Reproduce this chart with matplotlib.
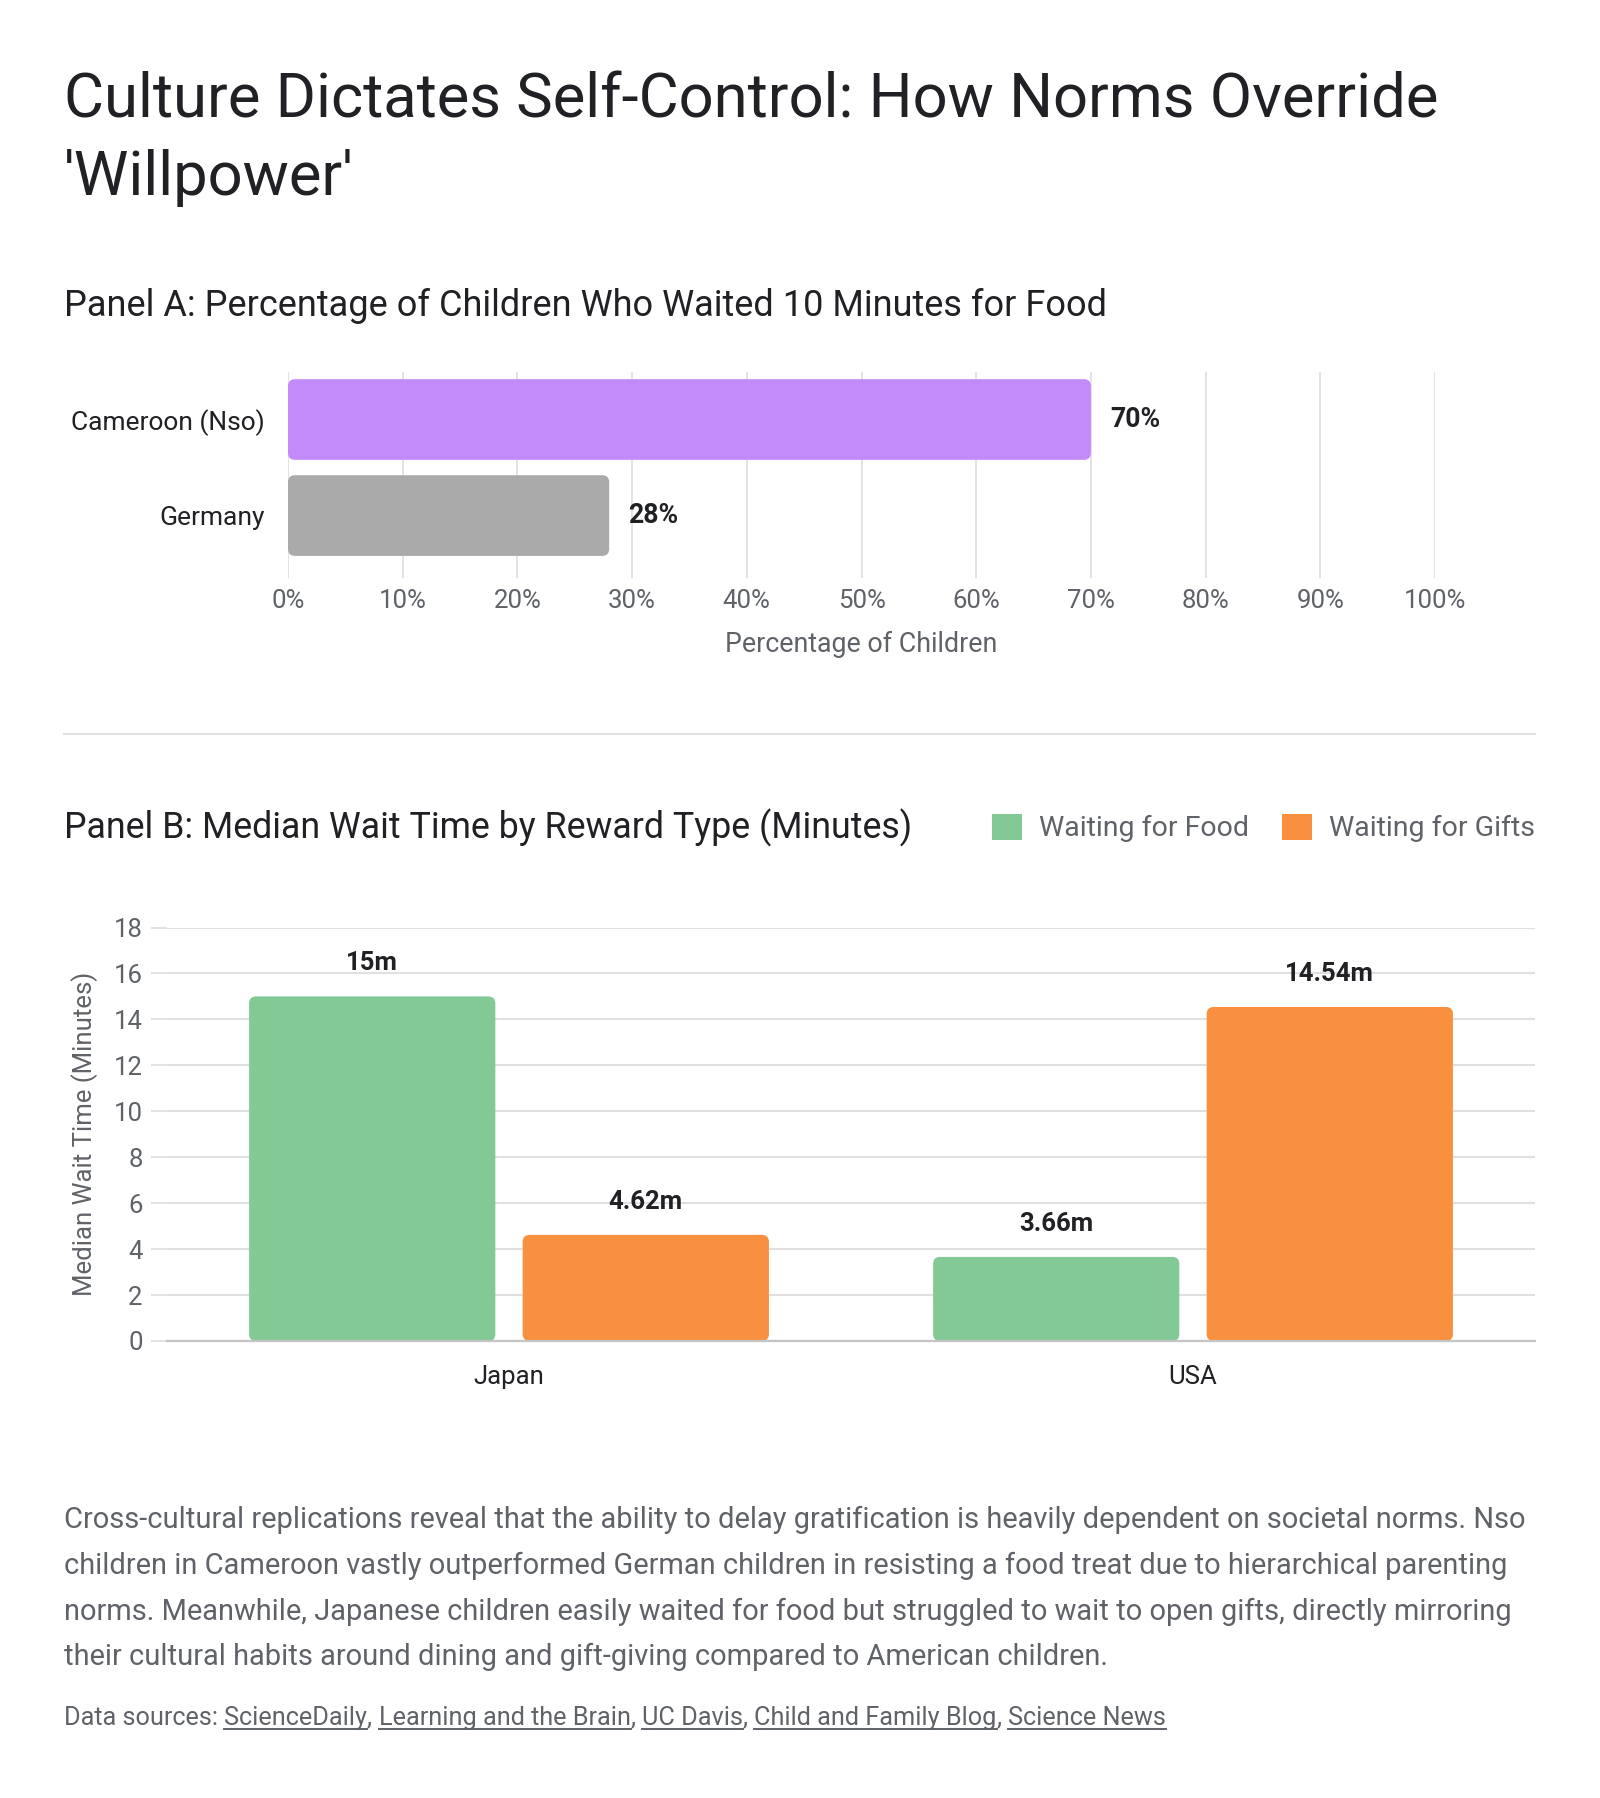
import matplotlib
matplotlib.use("Agg")
import matplotlib.pyplot as plt
from matplotlib.patches import FancyBboxPatch, Patch
from matplotlib.lines import Line2D
import numpy as np

# ---------------- data ----------------
title_lines = ["Culture Dictates Self-Control: How Norms Override", "'Willpower'"]
panel_a_title = "Panel A: Percentage of Children Who Waited 10 Minutes for Food"
panel_a_countries = ["Cameroon (Nso)", "Germany"]
panel_a_values = [70, 28]
panel_a_ticks = [0, 10, 20, 30, 40, 50, 60, 70, 80, 90, 100]
panel_a_xlabel = "Percentage of Children"

panel_b_title = "Panel B: Median Wait Time by Reward Type (Minutes)"
panel_b_countries = ["Japan", "USA"]
panel_b_food = [15, 3.66]
panel_b_gifts = [4.62, 14.54]
panel_b_food_labels = ["15m", "3.66m"]
panel_b_gifts_labels = ["4.62m", "14.54m"]
panel_b_series = ["Waiting for Food", "Waiting for Gifts"]
panel_b_yticks = [0, 2, 4, 6, 8, 10, 12, 14, 16, 18]
panel_b_ylabel = "Median Wait Time (Minutes)"

body_lines = [
    "Cross-cultural replications reveal that the ability to delay gratification is heavily dependent on societal norms. Nso",
    "children in Cameroon vastly outperformed German children in resisting a food treat due to hierarchical parenting",
    "norms. Meanwhile, Japanese children easily waited for food but struggled to wait to open gifts, directly mirroring",
    "their cultural habits around dining and gift-giving compared to American children.",
]
sources_prefix = "Data sources: "
sources = ["ScienceDaily", "Learning and the Brain", "UC Davis", "Child and Family Blog", "Science News"]

# ---------------- style ----------------
FONT = ["Roboto", "DejaVu Sans"]
plt.rcParams["font.family"] = FONT
DARK = "#202124"
GREY = "#5f6368"
GRID = "#e0e0e0"
PURPLE = "#c38af9"
GRAYBAR = "#aaaaaa"
GREEN = "#82c995"
ORANGE = "#f9903f"
TICK = 18.5

W, H = 1600, 1798
fig = plt.figure(figsize=(W / 100, H / 100), dpi=100)
fx = lambda x: x / W
fy = lambda y: 1 - y / H


def round_bars(ax, bars, radius_px):
    fig.canvas.draw()
    t = ax.transData
    p0 = t.transform((0, 0))
    p1 = t.transform((1, 1))
    ppx = abs(p1[0] - p0[0])
    ppy = abs(p1[1] - p0[1])
    rx = radius_px / ppx
    ry = radius_px / ppy
    for b in bars:
        x, y = b.get_x(), b.get_y()
        w, h = b.get_width(), b.get_height()
        fp = FancyBboxPatch((x, y), w, h,
                            boxstyle=f"round,pad=0,rounding_size={rx}",
                            mutation_aspect=ry / rx,
                            facecolor=b.get_facecolor(), edgecolor="none",
                            zorder=b.get_zorder())
        ax.add_patch(fp)
        b.set_visible(False)


# ---------------- titles ----------------
fig.text(fx(64), fy(101), title_lines[0], fontsize=44.3, color=DARK, va="center", ha="left")
fig.text(fx(64), fy(178), title_lines[1], fontsize=44.3, color=DARK, va="center", ha="left")

fig.text(fx(64), fy(306), panel_a_title, fontsize=26, color=DARK, va="center", ha="left")

# ---------------- panel A ----------------
axA = fig.add_axes([fx(288), fy(578), 1147 / W, 206 / H])
ya = np.arange(len(panel_a_countries))
barsA = axA.barh(ya, panel_a_values, height=0.84, color=[PURPLE, GRAYBAR], zorder=3)
axA.set_xlim(0, 100)
axA.set_ylim(1.65, -0.495)
axA.set_yticks(ya)
axA.set_yticklabels(panel_a_countries)
axA.set_xticks(panel_a_ticks)
axA.set_xticklabels([f"{v}%" for v in panel_a_ticks])
axA.tick_params(axis="x", length=0, pad=8, labelsize=TICK, labelcolor=GREY)
axA.tick_params(axis="y", length=0, pad=17, labelsize=19, labelcolor=DARK)
axA.grid(axis="x", color=GRID, linewidth=1.3, zorder=0)
axA.set_axisbelow(True)
for s in axA.spines.values():
    s.set_visible(False)
axA.set_xlabel(panel_a_xlabel, fontsize=19.3, color=GREY, labelpad=13)
for yv, v in zip(ya, panel_a_values):
    axA.annotate(f"{v}%", (v, yv), xytext=(14, 0), textcoords="offset points",
                 ha="left", va="center", fontsize=19.2, fontweight="bold", color=DARK)
round_bars(axA, barsA, 7)

# separator
fig.add_artist(Line2D([fx(64), fx(1535)], [fy(734), fy(734)], color=GRID, linewidth=1.5))

# ---------------- panel B ----------------
fig.text(fx(64), fy(828), panel_b_title, fontsize=25.75, color=DARK, va="center", ha="left")

axB = fig.add_axes([fx(167), fy(1341), (1535 - 167) / W, (1341 - 927.5) / H])
xb = np.arange(len(panel_b_countries))
bw = 0.36
off = 0.2
barsF = axB.bar(xb - off, panel_b_food, width=bw, color=GREEN, zorder=3, label=panel_b_series[0])
barsG = axB.bar(xb + off, panel_b_gifts, width=bw, color=ORANGE, zorder=3, label=panel_b_series[1])
axB.set_xlim(-0.5, 1.5)
axB.set_ylim(0, 18)
axB.set_yticks(panel_b_yticks)
axB.set_xticks(xb)
axB.set_xticklabels(panel_b_countries)
axB.tick_params(axis="y", length=11.5, width=1.3, color=GRID, pad=6, labelsize=TICK, labelcolor=GREY)
axB.tick_params(axis="x", length=0, pad=17, labelsize=TICK, labelcolor=DARK)
axB.grid(axis="y", color=GRID, linewidth=1.5, zorder=0)
axB.set_axisbelow(True)
for k, s in axB.spines.items():
    s.set_visible(k == "bottom")
axB.spines["bottom"].set_color("#c4c4c4")
axB.spines["bottom"].set_linewidth(1.6)
axB.spines["bottom"].set_zorder(4)
axB.set_ylabel(panel_b_ylabel, fontsize=18.5, color=GREY, labelpad=11)
for xv, v, lab in zip(xb - off, panel_b_food, panel_b_food_labels):
    axB.annotate(lab, (xv, v), xytext=(0, 24), textcoords="offset points",
                 ha="center", va="center", fontsize=18.5, fontweight="bold", color=DARK)
for xv, v, lab in zip(xb + off, panel_b_gifts, panel_b_gifts_labels):
    axB.annotate(lab, (xv, v), xytext=(0, 24), textcoords="offset points",
                 ha="center", va="center", fontsize=18.5, fontweight="bold", color=DARK)
round_bars(axB, list(barsF) + list(barsG), 7)

handles = [Patch(facecolor=GREEN, edgecolor="none"), Patch(facecolor=ORANGE, edgecolor="none")]
fig.legend(handles, panel_b_series, loc="center right", bbox_to_anchor=(fx(1535), fy(828)),
           ncol=2, frameon=False, fontsize=20.5, labelcolor=GREY, handlelength=1.05,
           handleheight=1.05, handletextpad=0.6, columnspacing=1.15, borderpad=0, borderaxespad=0)

# ---------------- body ----------------
for i, line in enumerate(body_lines):
    fig.text(fx(64), fy(1520 + 45.7 * i), line, fontsize=20.9, color=GREY, va="center", ha="left")

renderer = fig.canvas.get_renderer()
x = fx(64)
ybase = fy(1725)
parts = [(sources_prefix, False)]
for i, s in enumerate(sources):
    parts.append((s, True))
    if i < len(sources) - 1:
        parts.append((", ", False))
for txt, ul in parts:
    t = fig.text(x, ybase, txt, fontsize=18.2, color=GREY, va="baseline", ha="left")
    bb = t.get_window_extent(renderer)
    if ul:
        fig.add_artist(Line2D([bb.x0 / W, bb.x1 / W], [ybase - 4 / H, ybase - 4 / H],
                              color=GREY, linewidth=1.4))
    x = bb.x1 / W

fig.savefig("out.png", dpi=100, facecolor="white")
